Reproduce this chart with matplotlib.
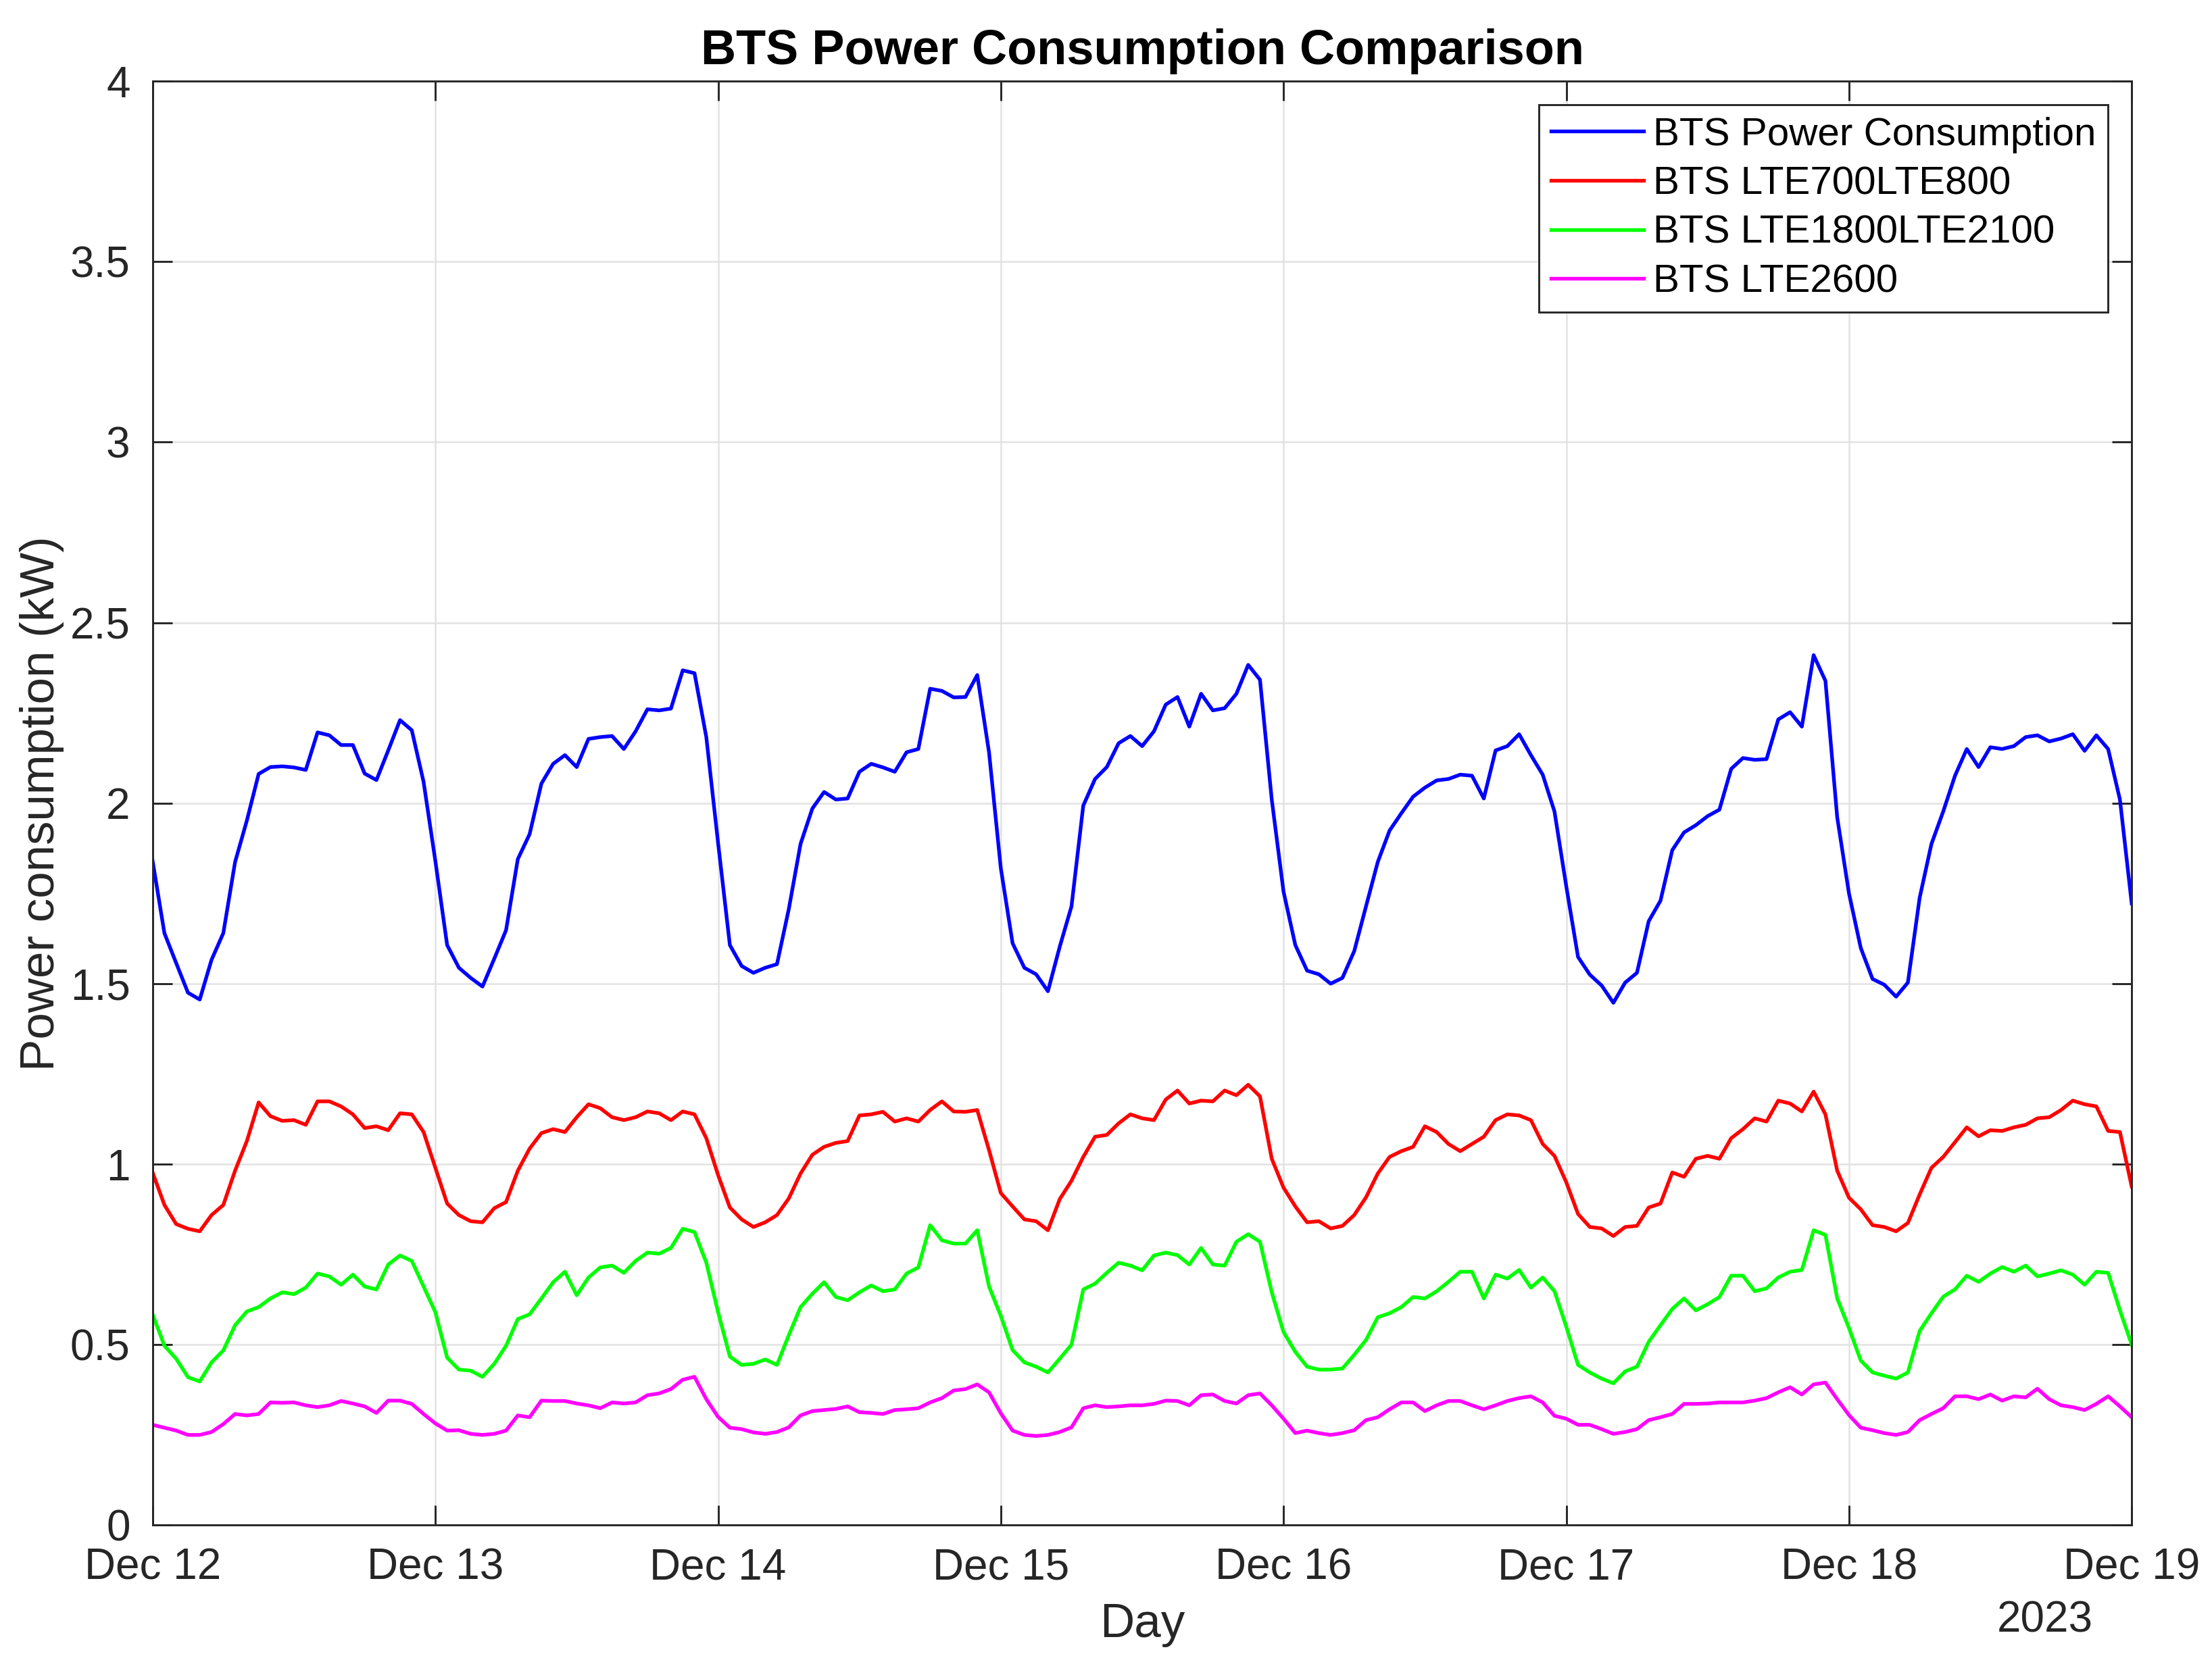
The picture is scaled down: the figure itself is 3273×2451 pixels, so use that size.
import matplotlib
matplotlib.use("Agg")
import matplotlib.pyplot as plt
import matplotlib.dates as mdates
import pandas as pd
import numpy as np

# ---- data (hourly, Dec 12 00:00 -> Dec 19 00:00, 2023) ----
start = "2023-12-12 00:00"
labels = ["BTS Power Consumption", "BTS LTE700LTE800", "BTS LTE1800LTE2100", "BTS LTE2600"]

bts_total = [
    1.84, 1.64, 1.557, 1.475, 1.456, 1.566, 1.64, 1.837, 1.952, 2.081, 2.100, 2.102, 2.099, 2.092, 2.196, 2.188, 2.161, 2.161, 2.082, 2.064, 2.146, 2.230, 2.202, 2.059,
    1.84, 1.607, 1.544, 1.516, 1.492, 1.569, 1.648, 1.845, 1.914, 2.054, 2.109, 2.133, 2.100, 2.178, 2.183, 2.186, 2.150, 2.199, 2.260, 2.257, 2.262, 2.368, 2.360, 2.183,
    1.89, 1.607, 1.549, 1.530, 1.544, 1.554, 1.706, 1.887, 1.985, 2.031, 2.010, 2.013, 2.087, 2.109, 2.099, 2.087, 2.141, 2.150, 2.317, 2.311, 2.293, 2.294, 2.355, 2.141,
    1.82, 1.612, 1.544, 1.526, 1.479, 1.602, 1.714, 1.993, 2.067, 2.100, 2.166, 2.186, 2.158, 2.199, 2.273, 2.294, 2.212, 2.303, 2.257, 2.263, 2.303, 2.383, 2.342, 2.010,
    1.755, 1.607, 1.536, 1.526, 1.500, 1.516, 1.590, 1.714, 1.837, 1.924, 1.972, 2.018, 2.043, 2.063, 2.067, 2.079, 2.076, 2.013, 2.146, 2.158, 2.191, 2.133, 2.079, 1.977,
    1.77, 1.574, 1.525, 1.495, 1.447, 1.503, 1.530, 1.673, 1.730, 1.870, 1.919, 1.939, 1.964, 1.982, 2.095, 2.125, 2.120, 2.122, 2.232, 2.252, 2.212, 2.410, 2.339, 1.961,
    1.75, 1.599, 1.513, 1.497, 1.464, 1.503, 1.738, 1.887, 1.977, 2.076, 2.150, 2.100, 2.155, 2.150, 2.158, 2.183, 2.188, 2.171, 2.179, 2.191, 2.145, 2.188, 2.150, 2.010,
    1.722,
]

lte700_800 = [
    0.977, 0.887, 0.834, 0.821, 0.814, 0.859, 0.887, 0.982, 1.064, 1.171, 1.133, 1.120, 1.122, 1.109, 1.174, 1.174, 1.160, 1.138, 1.100, 1.105, 1.094, 1.141, 1.138, 1.089,
    0.99, 0.891, 0.859, 0.842, 0.839, 0.878, 0.895, 0.982, 1.043, 1.086, 1.097, 1.089, 1.130, 1.166, 1.155, 1.130, 1.122, 1.130, 1.146, 1.141, 1.122, 1.146, 1.138, 1.072,
    0.97, 0.880, 0.847, 0.826, 0.839, 0.859, 0.905, 0.974, 1.026, 1.048, 1.059, 1.064, 1.135, 1.138, 1.145, 1.118, 1.127, 1.118, 1.150, 1.174, 1.146, 1.145, 1.150, 1.039,
    0.92, 0.883, 0.847, 0.842, 0.817, 0.903, 0.954, 1.020, 1.076, 1.081, 1.113, 1.138, 1.127, 1.122, 1.179, 1.204, 1.168, 1.176, 1.174, 1.204, 1.191, 1.220, 1.188, 1.015,
    0.935, 0.883, 0.839, 0.842, 0.822, 0.829, 0.859, 0.908, 0.974, 1.020, 1.036, 1.048, 1.105, 1.089, 1.056, 1.036, 1.056, 1.076, 1.122, 1.138, 1.135, 1.122, 1.056, 1.023,
    0.95, 0.862, 0.826, 0.822, 0.801, 0.826, 0.829, 0.880, 0.891, 0.977, 0.965, 1.015, 1.023, 1.015, 1.072, 1.097, 1.127, 1.118, 1.176, 1.168, 1.146, 1.201, 1.138, 0.982,
    0.907, 0.875, 0.831, 0.826, 0.814, 0.837, 0.916, 0.990, 1.020, 1.061, 1.102, 1.077, 1.094, 1.092, 1.102, 1.109, 1.127, 1.130, 1.150, 1.176, 1.166, 1.160, 1.092, 1.089,
    0.938,
]

lte1800_2100 = [
    0.584, 0.497, 0.461, 0.410, 0.398, 0.451, 0.484, 0.554, 0.592, 0.604, 0.628, 0.645, 0.640, 0.658, 0.697, 0.689, 0.666, 0.694, 0.661, 0.653, 0.722, 0.747, 0.732, 0.661,
    0.59, 0.464, 0.431, 0.428, 0.411, 0.447, 0.497, 0.571, 0.584, 0.628, 0.673, 0.702, 0.637, 0.686, 0.714, 0.719, 0.699, 0.732, 0.755, 0.752, 0.768, 0.821, 0.812, 0.727,
    0.59, 0.467, 0.444, 0.447, 0.459, 0.444, 0.526, 0.604, 0.641, 0.673, 0.632, 0.623, 0.645, 0.664, 0.648, 0.653, 0.697, 0.714, 0.831, 0.789, 0.780, 0.780, 0.817, 0.661,
    0.58, 0.485, 0.451, 0.439, 0.423, 0.461, 0.500, 0.653, 0.669, 0.699, 0.727, 0.719, 0.706, 0.747, 0.755, 0.748, 0.722, 0.768, 0.722, 0.719, 0.785, 0.806, 0.785, 0.645,
    0.535, 0.480, 0.439, 0.431, 0.431, 0.434, 0.472, 0.513, 0.576, 0.587, 0.604, 0.632, 0.628, 0.648, 0.674, 0.702, 0.702, 0.628, 0.694, 0.683, 0.707, 0.658, 0.686, 0.648,
    0.55, 0.444, 0.423, 0.406, 0.393, 0.426, 0.439, 0.508, 0.554, 0.599, 0.628, 0.595, 0.612, 0.632, 0.691, 0.691, 0.648, 0.656, 0.686, 0.702, 0.707, 0.817, 0.804, 0.628,
    0.546, 0.456, 0.423, 0.414, 0.406, 0.423, 0.538, 0.587, 0.633, 0.653, 0.691, 0.674, 0.697, 0.715, 0.702, 0.719, 0.689, 0.697, 0.706, 0.694, 0.666, 0.702, 0.699, 0.595,
    0.500,
]

lte2600 = [
    0.278, 0.270, 0.262, 0.250, 0.250, 0.258, 0.280, 0.308, 0.304, 0.308, 0.340, 0.339, 0.340, 0.332, 0.327, 0.332, 0.344, 0.337, 0.329, 0.311, 0.345, 0.345, 0.336, 0.308,
    0.282, 0.262, 0.263, 0.253, 0.250, 0.253, 0.262, 0.304, 0.299, 0.345, 0.344, 0.344, 0.337, 0.332, 0.324, 0.340, 0.337, 0.340, 0.360, 0.365, 0.377, 0.403, 0.411, 0.349,
    0.30, 0.270, 0.266, 0.257, 0.253, 0.258, 0.271, 0.304, 0.316, 0.319, 0.322, 0.329, 0.313, 0.311, 0.308, 0.319, 0.321, 0.324, 0.340, 0.352, 0.373, 0.377, 0.390, 0.368,
    0.31, 0.262, 0.250, 0.247, 0.250, 0.258, 0.271, 0.324, 0.332, 0.327, 0.329, 0.332, 0.332, 0.336, 0.345, 0.344, 0.332, 0.360, 0.362, 0.344, 0.337, 0.360, 0.365, 0.332,
    0.295, 0.255, 0.262, 0.255, 0.250, 0.255, 0.263, 0.291, 0.299, 0.321, 0.340, 0.340, 0.316, 0.332, 0.344, 0.344, 0.332, 0.321, 0.332, 0.344, 0.352, 0.357, 0.340, 0.303,
    0.295, 0.278, 0.278, 0.266, 0.253, 0.258, 0.266, 0.291, 0.299, 0.308, 0.336, 0.336, 0.337, 0.340, 0.340, 0.340, 0.345, 0.352, 0.368, 0.382, 0.362, 0.390, 0.395, 0.349,
    0.305, 0.270, 0.263, 0.255, 0.250, 0.258, 0.291, 0.308, 0.324, 0.357, 0.357, 0.349, 0.362, 0.345, 0.357, 0.354, 0.378, 0.349, 0.332, 0.327, 0.319, 0.336, 0.357, 0.329,
    0.299,
]

y_ticks = [0, 0.5, 1, 1.5, 2, 2.5, 3, 3.5, 4]
y_tick_labels = ["0", "0.5", "1", "1.5", "2", "2.5", "3", "3.5", "4"]

# ---- style ----
plt.rcParams["font.family"] = ["Liberation Sans", "DejaVu Sans"]
AX_COLOR = "#262626"

times = pd.date_range(start, periods=len(bts_total), freq="h")

fig = plt.figure(figsize=(10.91, 8.17), dpi=300)
ax = fig.add_axes([0.069, 0.079, 0.8947, 0.872])

series = [bts_total, lte700_800, lte1800_2100, lte2600]
colors = ["#0000ff", "#ff0000", "#00ff00", "#ff00ff"]
for vals, col, lab in zip(series, colors, labels):
    ax.plot(times, vals, color=col, lw=1.3, label=lab)

ax.set_xlim(times[0], times[-1])
ax.set_ylim(0, 4)
ax.set_yticks(y_ticks)
ax.set_yticklabels(y_tick_labels)
ax.xaxis.set_major_locator(mdates.DayLocator())
ax.xaxis.set_major_formatter(mdates.DateFormatter("%b %d"))

ax.grid(True, color="#e2e2e2", lw=0.6)
ax.set_axisbelow(True)
for s in ax.spines.values():
    s.set_color(AX_COLOR)
    s.set_linewidth(0.7)
ax.tick_params(direction="in", length=7, width=0.7, colors=AX_COLOR,
               labelsize=15.3, top=True, right=True, pad=8)
for t in ax.get_xticklabels() + ax.get_yticklabels():
    t.set_color(AX_COLOR)

ax.set_title("BTS Power Consumption Comparison", fontsize=17.3, fontweight="bold",
             pad=6, color="black")
ax.set_xlabel("Day", fontsize=17, color=AX_COLOR, labelpad=5)
ax.set_ylabel("Power consumption (kW)", fontsize=17, color=AX_COLOR, labelpad=2)

ax.text(0.956, -0.066, "2023", transform=ax.transAxes, ha="center", va="center",
        fontsize=15.3, color=AX_COLOR)

leg = ax.legend(loc="upper right", fontsize=14, frameon=True, fancybox=False,
                framealpha=1, edgecolor=AX_COLOR, handlelength=2.35,
                handletextpad=0.25, labelspacing=0.32, borderpad=0.3,
                borderaxespad=0.6)
leg.get_frame().set_linewidth(0.7)

fig.savefig("out.png", dpi=300, facecolor="white")
